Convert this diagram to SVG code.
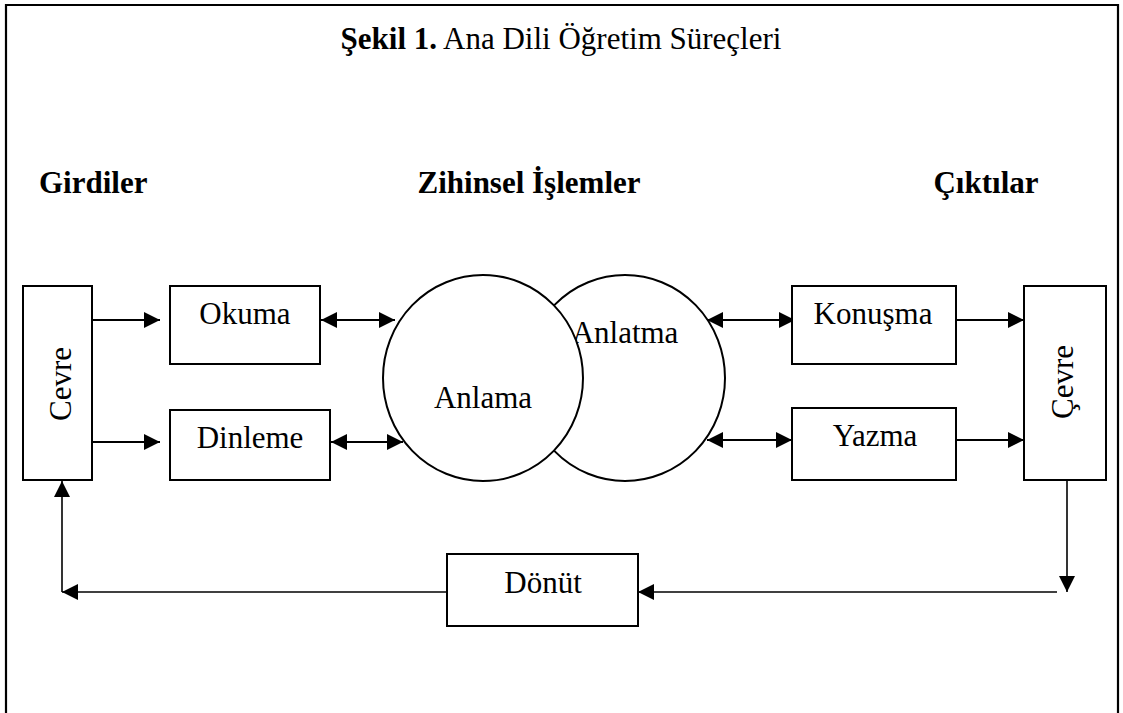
<svg xmlns="http://www.w3.org/2000/svg" width="1123" height="713" viewBox="0 0 1123 713">
<defs>
<style>
.box{fill:#fff;stroke:#000;stroke-width:2}
.circ{fill:#fff;stroke:#000;stroke-width:2}
.t{font-family:"Liberation Serif","Times New Roman",serif;font-size:31px;fill:#000;text-anchor:middle}
.h{font-family:"Liberation Serif","Times New Roman",serif;font-size:31px;font-weight:bold;fill:#000}
.ln{fill:none;stroke:#000;stroke-width:2}
.fb{fill:none;stroke:#000;stroke-width:1.6}
</style>
<marker id="ah" markerUnits="userSpaceOnUse" markerWidth="17" markerHeight="17" refX="16" refY="8" orient="auto-start-reverse" viewBox="0 0 17 17">
<path d="M0,0 L16,8 L0,16 z" fill="#000"/>
</marker>
</defs>
<rect width="1123" height="713" fill="#fff"/>
<path d="M6,713 L6,5 L1118,5 L1118,713" fill="none" stroke="#000" stroke-width="2.2"/>
<g id="title">
<text x="561" y="49" class="t"><tspan font-weight="bold">Şekil 1.</tspan> Ana Dili Öğretim Süreçleri</text>
</g>
<g id="headers">
<text x="39" y="193" class="h">Girdiler</text>
<text x="529" y="193" class="h" text-anchor="middle">Zihinsel İşlemler</text>
<text x="986" y="193" class="h" text-anchor="middle">Çıktılar</text>
</g>
<g id="connectors">
<line class="ln" x1="92" y1="320" x2="160" y2="320" marker-end="url(#ah)"/>
<line class="ln" x1="92" y1="442" x2="160" y2="442" marker-end="url(#ah)"/>
<line class="ln" x1="321" y1="320" x2="395" y2="320" marker-start="url(#ah)" marker-end="url(#ah)"/>
<line class="ln" x1="331" y1="442" x2="403" y2="442" marker-start="url(#ah)" marker-end="url(#ah)"/>
<line class="ln" x1="707" y1="320" x2="795" y2="320" marker-start="url(#ah)" marker-end="url(#ah)"/>
<line class="ln" x1="707" y1="440" x2="792" y2="440" marker-start="url(#ah)" marker-end="url(#ah)"/>
<line class="ln" x1="956" y1="320" x2="1024" y2="320" marker-end="url(#ah)"/>
<line class="ln" x1="956" y1="440" x2="1024" y2="440" marker-end="url(#ah)"/>
<line class="fb" x1="1067" y1="480" x2="1067" y2="592" marker-end="url(#ah)"/>
<line class="fb" x1="1057" y1="592" x2="638" y2="592" marker-end="url(#ah)"/>
<line class="fb" x1="447" y1="592" x2="62" y2="592" marker-end="url(#ah)"/>
<line class="fb" x1="62" y1="592" x2="62" y2="481" marker-end="url(#ah)"/>
</g>
<g id="cevre-left">
<rect class="box" x="23" y="286" width="69" height="194"/>
<text class="t" transform="translate(71,384) rotate(-90)" x="0" y="0">Cevre</text>
</g>
<g id="okuma">
<rect class="box" x="170" y="286" width="150" height="78"/>
<text class="t" x="245" y="324">Okuma</text>
</g>
<g id="dinleme">
<rect class="box" x="170" y="410" width="160" height="70"/>
<text class="t" x="250" y="448">Dinleme</text>
</g>
<g id="anlatma">
<ellipse class="circ" cx="625" cy="378" rx="100" ry="103"/>
<text class="t" x="625" y="343">Anlatma</text>
</g>
<g id="anlama">
<ellipse class="circ" cx="483" cy="378" rx="100" ry="103"/>
<text class="t" x="483" y="408">Anlama</text>
</g>
<g id="konusma">
<rect class="box" x="792" y="286" width="164" height="78"/>
<text class="t" x="873" y="324">Konuşma</text>
</g>
<g id="yazma">
<rect class="box" x="792" y="408" width="164" height="72"/>
<text class="t" x="875" y="446">Yazma</text>
</g>
<g id="cevre-right">
<rect class="box" x="1024" y="286" width="82" height="194"/>
<text class="t" transform="translate(1073,382) rotate(-90)" x="0" y="0">Çevre</text>
</g>
<g id="donut">
<rect class="box" x="447" y="554" width="191" height="72"/>
<text class="t" x="543" y="593">Dönüt</text>
</g>
</svg>
